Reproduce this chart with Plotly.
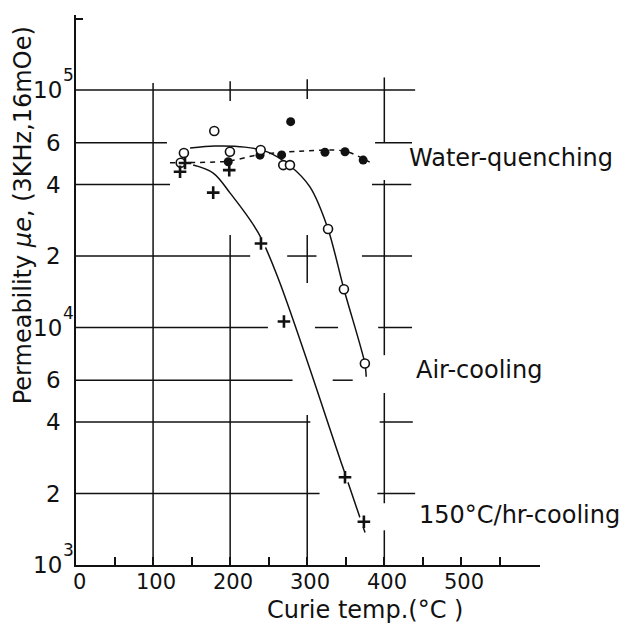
import math
import plotly.graph_objects as go

# ---- measured points: Curie temperature (deg C) vs. permeability mu_e ----
wq_temp = [197.5, 238.7, 266.8, 278.5, 323.0, 349.0, 372.6]
wq_mu = [49.9e3, 53.2e3, 53.3e3, 73.6e3, 54.7e3, 55.0e3, 50.7e3]

ac_temp = [135.8, 140.0, 179.4, 199.7, 239.6, 268.9, 277.6, 327.0, 347.6, 374.8]
ac_mu = [49.4e3, 54.3e3, 67.2e3, 55.0e3, 55.9e3, 48.3e3, 48.3e3, 26.0e3, 14.5e3, 7.06e3]

sc_temp = [135.0, 141.4, 178.0, 198.8, 240.0, 269.8, 349.0, 373.5]
sc_mu = [45.3e3, 49.3e3, 37.0e3, 46.0e3, 22.6e3, 10.6e3, 2.34e3, 1.52e3]

# ---- hand-drawn trend curves ----
wq_curve_t = [122, 197, 236, 290, 349, 381]
wq_curve_mu = [49.4e3, 50.2e3, 53.3e3, 55.3e3, 55.3e3, 49.7e3]
ac_curve_t = [148, 180, 219, 249, 278, 303.5, 327, 347.6, 374.8, 376.5]
ac_curve_mu = [57.0e3, 58.1e3, 57.5e3, 54.8e3, 47.9e3, 39.1e3, 26.0e3, 14.5e3, 7.06e3, 6.2e3]
sc_curve_t = [152, 178, 200, 236, 262, 346, 375]
sc_curve_mu = [48.3e3, 44.7e3, 36.8e3, 25.2e3, 16.2e3, 2.59e3, 1.37e3]

# ---- series names ----
series_names = ["Water-quenching", "Air-cooling", "150°C/hr-cooling"]

# ---- axis labels ----
x_tick_vals = [0, 100, 200, 300, 400, 500]
x_tick_text = ["0", "100", "200", "300", "400", "500"]
x_minor_vals = [50, 150, 250, 350, 450, 550]
y_decade_vals = [1e3, 1e4, 1e5]
y_decade_exp = ["3", "4", "5"]
y_sub_vals = [2e3, 4e3, 6e3, 2e4, 4e4, 6e4]
y_sub_text = ["2", "4", "6", "2", "4", "6"]
x_title = "Curie temp.(°C )"
y_title = "Permeability <i>μe</i>, (3KHz,16mOe)"

# ---- partial grid, drawn by hand on the original sheet ----
# horizontal pieces: (value, from_temp, to_temp)
grid_h = [
    (1e5, 0, 440),
    (6e4, 0, 118), (6e4, 388, 436),
    (4e4, 0, 122), (4e4, 384, 435),
    (2e4, 0, 226), (2e4, 274, 312), (2e4, 371, 436),
    (1e4, 0, 249), (1e4, 310, 340), (1e4, 392, 436),
    (6e3, 0, 281), (6e3, 333, 359),
    (4e3, 0, 304), (4e3, 394, 437),
    (2e3, 0, 316), (2e3, 391, 440),
]
# vertical pieces: (temp, from_value, to_value)
grid_v = [
    (100, 1e3, 1.07e5),
    (200, 8.99e4, 1.09e5), (200, 1e3, 24.5e3),
    (300, 9.16e4, 1.11e5), (300, 15.4e3, 24.5e3), (300, 1e3, 4.28e3),
    (400, 5.98e4, 1.13e5), (400, 7.65e3, 4.18e4), (400, 1.82e3, 5.3e3),
    (400, 1e3, 1.40e3),
]

INK = "#111111"
FONT = "DejaVu Sans"

fig = go.Figure()

gx, gy = [], []
for v, a, b in grid_h:
    gx += [a, b, None]
    gy += [v, v, None]
for t, a, b in grid_v:
    gx += [t, t, None]
    gy += [a, b, None]
fig.add_trace(go.Scatter(x=gx, y=gy, mode="lines",
                         line=dict(color=INK, width=1.5),
                         hoverinfo="skip", showlegend=False))

# trend curves
fig.add_trace(go.Scatter(x=wq_curve_t, y=wq_curve_mu, mode="lines",
                         line=dict(color=INK, width=1.5, dash="5px,5px", shape="spline", smoothing=0.8),
                         name=series_names[0], showlegend=False))
fig.add_trace(go.Scatter(x=ac_curve_t, y=ac_curve_mu, mode="lines",
                         line=dict(color=INK, width=1.5, shape="spline", smoothing=0.8),
                         name=series_names[1], showlegend=False))
fig.add_trace(go.Scatter(x=sc_curve_t, y=sc_curve_mu, mode="lines",
                         line=dict(color=INK, width=1.5, shape="spline", smoothing=1.0),
                         name=series_names[2], showlegend=False))

# white halos so the curves break around the crosses
fig.add_trace(go.Scatter(x=sc_temp, y=sc_mu, mode="markers",
                         marker=dict(symbol="circle", size=12, color="white"),
                         hoverinfo="skip", showlegend=False))

# measured points
fig.add_trace(go.Scatter(x=wq_temp, y=wq_mu, mode="markers", name=series_names[0],
                         marker=dict(symbol="circle", size=9, color=INK), showlegend=False))
fig.add_trace(go.Scatter(x=ac_temp, y=ac_mu, mode="markers", name=series_names[1],
                         marker=dict(symbol="circle", size=9, color="white",
                                     line=dict(color=INK, width=1.6)), showlegend=False))
fig.add_trace(go.Scatter(x=sc_temp, y=sc_mu, mode="markers", name=series_names[2],
                         marker=dict(symbol="cross-thin", size=9,
                                     line=dict(color=INK, width=2.6)), showlegend=False))

annotations = []
# y tick labels
for v, e in zip(y_decade_vals, y_decade_exp):
    annotations.append(dict(x=-0.026, xref="paper", y=math.log10(v), yref="y",
                            text="10", showarrow=False, xanchor="right", yanchor="middle",
                            font=dict(family=FONT, size=23, color=INK)))
    annotations.append(dict(x=-0.033, xref="paper", y=math.log10(v), yref="y", yshift=15,
                            text=e, showarrow=False, xanchor="left", yanchor="middle",
                            font=dict(family=FONT, size=17, color=INK)))
for v, s in zip(y_sub_vals, y_sub_text):
    annotations.append(dict(x=-0.028, xref="paper", y=math.log10(v), yref="y",
                            text=s, showarrow=False, xanchor="right", yanchor="middle",
                            font=dict(family=FONT, size=23, color=INK)))

# x tick labels (just under the axis)
for v, s in zip(x_tick_vals, x_tick_text):
    annotations.append(dict(x=v, xref="x", y=-0.008, yref="paper", xshift=3,
                            text=s, showarrow=False, xanchor="center", yanchor="top",
                            borderpad=0, font=dict(family=FONT, size=21, color=INK)))

# curve labels
label_pos = [(430, 51.8e3), (439, 6.62e3), (443, 1.62e3)]
for name, (lx, ly) in zip(series_names, label_pos):
    annotations.append(dict(x=lx, xref="x", y=math.log10(ly), yref="y", text=name,
                            showarrow=False, xanchor="left", yanchor="middle",
                            font=dict(family=FONT, size=24, color=INK)))

# axis titles
annotations.append(dict(x=0.623, xref="paper", y=-0.054, yref="paper", text=x_title,
                        showarrow=False, xanchor="center", yanchor="top", borderpad=0,
                        font=dict(family=FONT, size=24, color=INK)))
annotations.append(dict(x=-0.114, xref="paper", y=0.636, yref="paper", text=y_title,
                        textangle=-90, showarrow=False, xanchor="center", yanchor="middle",
                        font=dict(family=FONT, size=24, color=INK)))

all_x_ticks = sorted(x_tick_vals + x_minor_vals)

fig.update_layout(
    width=629, height=626,
    margin=dict(l=76, r=89, t=15, b=61),
    paper_bgcolor="white", plot_bgcolor="white",
    showlegend=False,
    annotations=annotations,
    xaxis=dict(range=[0, 602], showgrid=False, zeroline=False,
               showline=True, linecolor=INK, linewidth=2,
               tickvals=all_x_ticks, showticklabels=False,
               ticks="inside", ticklen=8, tickwidth=1.5, tickcolor=INK),
    yaxis=dict(type="log", range=[3, 5.316], showgrid=False, zeroline=False,
               showline=True, linecolor=INK, linewidth=2,
               tickvals=[2e5], ticks="inside", ticklen=7, tickwidth=1.5, tickcolor=INK,
               showticklabels=False),
)

fig.write_html("out.html")
